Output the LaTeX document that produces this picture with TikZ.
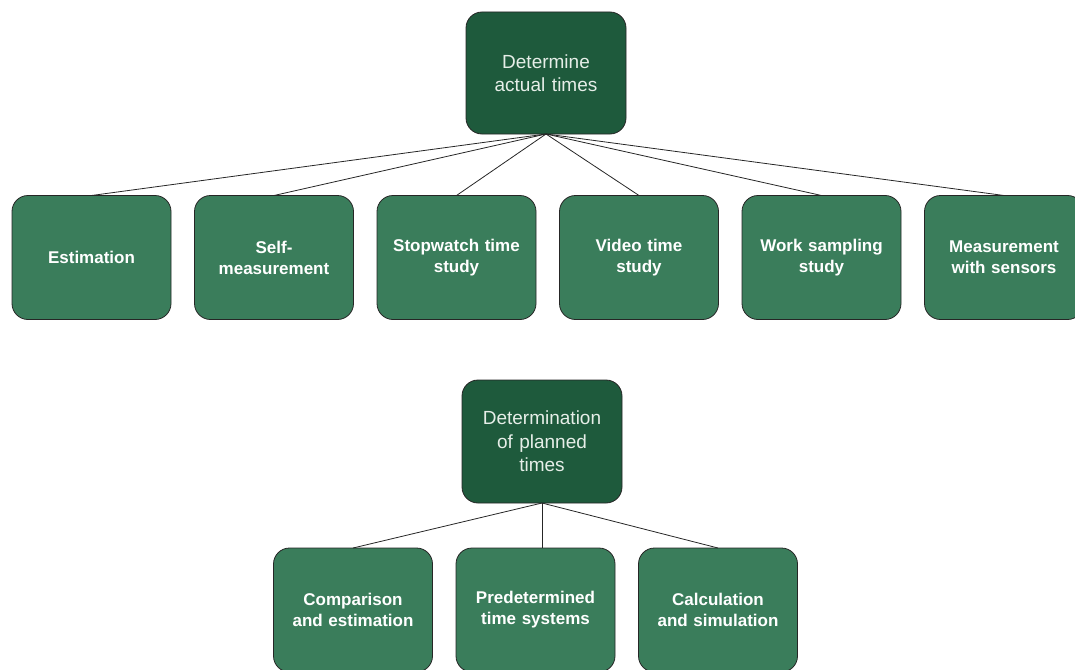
\documentclass[tikz,border=0pt]{standalone}
\usepackage{fontspec}
\setmainfont{Liberation Sans}
\usepackage{tikz}
\usetikzlibrary{
  positioning
}
\definecolor{rootgreen}{HTML}{1E5A3C}
\definecolor{leafgreen}{HTML}{3A7D5B}
\definecolor{roottext}{HTML}{E6EEE8}
\tikzstyle{rootbox}=[draw=black!85, fill=rootgreen, rounded corners=16pt, line width=0.8pt, outer sep=0pt,
  minimum width=160pt, minimum height=122pt, text width=150pt, align=center,
  text=roottext, font=\fontsize{19}{23.5}\selectfont]
\tikzstyle{leafbox}=[draw=black!85, fill=leafgreen, rounded corners=16pt, line width=0.8pt, outer sep=0pt,
  minimum width=159pt, minimum height=124pt, text width=150pt, align=center,
  text=white, font=\bfseries\fontsize{17}{21}\selectfont]
\tikzstyle{branch}=[draw=black!85, line width=0.8pt]

\begin{document}
\begin{tikzpicture}[x=1pt, y=-1pt]
    % 描画範囲
    \useasboundingbox (0,0) rectangle (1075,669);

    % 実績時間の決定
    \node[rootbox] (actual) at (546,73) {Determine\\actual\hspace{0.35em}times};

    % 実績時間の手法
    \node[leafbox] (estim) at (91.5,257.5) {Estimation};
    \node[leafbox, right=23.5pt of estim] (selfm) {Self-\\measurement};
    \node[leafbox, right=23.5pt of selfm] (stopw) {Stopwatch time\\study};
    \node[leafbox, right=23.5pt of stopw] (video) {Video time\\study};
    \node[leafbox, right=23.5pt of video] (wsamp) {Work sampling\\study};
    \node[leafbox, right=23.5pt of wsamp] (sensor) {Measurement\\with sensors};

    % 実績時間の枝
    \draw[branch] (actual.south) -- (estim.north);
    \draw[branch] (actual.south) -- (selfm.north);
    \draw[branch] (actual.south) -- (stopw.north);
    \draw[branch] (actual.south) -- (video.north);
    \draw[branch] (actual.south) -- (wsamp.north);
    \draw[branch] (actual.south) -- (sensor.north);

    % 計画時間の決定
    \node[rootbox, minimum height=123pt] (planned) at (542,441.5) {Determination\\of planned\\times};

    % 計画時間の手法
    \node[leafbox] (compar) at (353,610) {Comparison\\and estimation};
    \node[leafbox, right=23.5pt of compar] (pts) {Predetermined\\time systems};
    \node[leafbox, right=23.5pt of pts] (calc) {Calculation\\and simulation};

    % 計画時間の枝
    \draw[branch] (planned.south) -- (compar.north);
    \draw[branch] (planned.south) -- (planned.south |- pts.north);
    \draw[branch] (planned.south) -- (calc.north);
\end{tikzpicture}
\end{document}
